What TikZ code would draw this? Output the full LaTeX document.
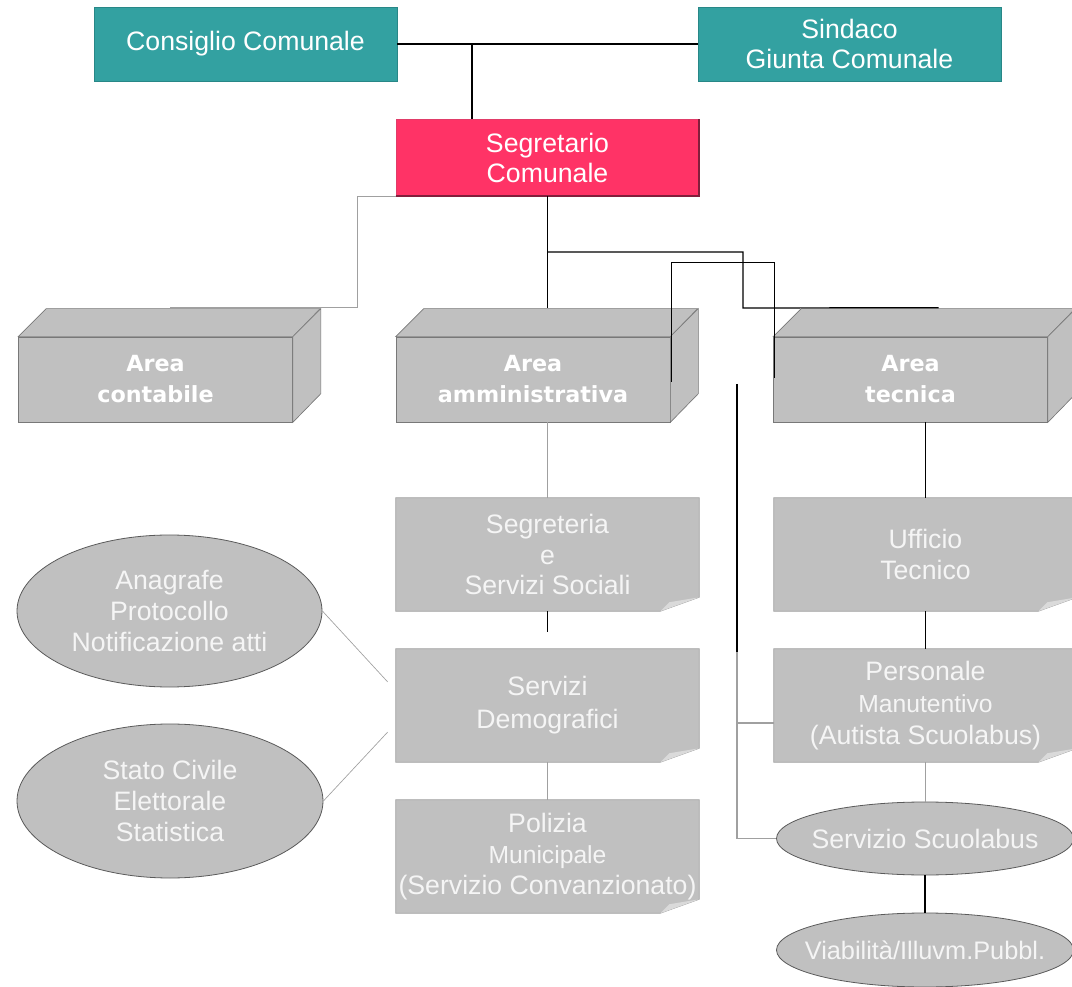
\documentclass[tikz,border=0pt]{standalone}
\usepackage{fontspec}
\setmainfont{Liberation Sans}
\newfontfamily\areafont{DejaVu Sans}
\usetikzlibrary{shapes.geometric,backgrounds,calc}

\definecolor{boardteal}{RGB}{51,161,161}
\definecolor{boardedge}{RGB}{40,135,135}
\definecolor{secretaryred}{RGB}{255,51,102}
\definecolor{secretaryedge}{RGB}{225,60,105}
\definecolor{secretaryshadow}{RGB}{130,30,60}
\definecolor{officegray}{RGB}{192,192,192}
\definecolor{boxedge}{RGB}{120,120,120}
\definecolor{noteedge}{RGB}{165,165,165}
\definecolor{foldgray}{RGB}{218,218,218}
\definecolor{notetext}{RGB}{245,245,245}
\definecolor{bubbleedge}{RGB}{90,90,90}
\definecolor{linegray}{RGB}{160,160,160}

\tikzset{
  topbox/.style={rectangle, fill=boardteal, draw=boardedge, line width=0.6pt,
    text=white, minimum width=227.25pt, minimum height=55.5pt, inner sep=0pt,
    align=center, font=\fontsize{20}{22.5}\selectfont},
  areabox/.style={rectangle, fill=officegray, draw=boxedge, line width=0.5pt,
    text=white, minimum width=205.5pt, minimum height=63.75pt, inner sep=0pt,
    align=center, font=\areafont\bfseries\fontsize{16.7}{23.25}\selectfont},
  areaface/.style={fill=officegray, draw=boxedge, line width=0.5pt},
  notebox/.style={rectangle, minimum width=227.25pt, minimum height=84.75pt,
    inner sep=0pt, align=center, text=notetext, font=\fontsize{20}{23}\selectfont},
  bubble/.style={ellipse, fill=officegray, draw=bubbleedge, line width=0.6pt, inner sep=0pt},
  bubbletext/.style={text=notetext, align=center, font=\fontsize{20}{23}\selectfont},
  link/.style={line width=0.9pt},
  graylink/.style={draw=linegray, line width=0.8pt},
}

\begin{document}
\begin{tikzpicture}[x=0.75pt,y=-0.75pt]
  \useasboundingbox (0,0) rectangle (1072,987);

  % organi di governo
  \node[topbox] (consiglio) at (245.5,44) {Consiglio Comunale};
  \node[topbox] (sindaco) at (849.5,44) {Sindaco\\Giunta Comunale};
  \node[topbox, fill=secretaryred, draw=secretaryedge, minimum height=57.75pt]
    (segretario) at (547.5,157.5) {Segretario\\Comunale};
  \draw[secretaryshadow, line width=1.4pt]
    (segretario.south west) -- (segretario.south east) -- (segretario.north east);

  % aree (scatole in rilievo)
  \node[areabox] (contabile) at (155.5,379.5) {Area\\contabile};
  \node[areabox] (amministrativa) at (533,379.5) {Area\\amministrativa};
  \node[areabox] (tecnica) at (910.5,379.5) {Area\\tecnica};
  \foreach \a in {contabile,amministrativa,tecnica}{
    \filldraw[areaface] (\a.north west) -- ++(28,-28) -- ++(274,0) -- (\a.north east) -- cycle;
    \filldraw[areaface] (\a.north east) -- ++(28,-28) -- ++(0,85) -- (\a.south east) -- cycle;
  }

  % uffici
  \node[notebox] (segreteria) at (547.5,554.5) {Segreteria\\e\\Servizi Sociali};
  \node[notebox, font=\fontsize{20}{24.75}\selectfont] (demografici) at (547.5,705.5)
    {Servizi\\Demografici};
  \node[notebox] (polizia) at (547.5,856.5)
    {Polizia\\{\fontsize{18.5}{23}\selectfont Municipale}\\(Servizio Convanzionato)};
  \node[notebox] (ufficio) at (925.5,554.5) {Ufficio\\Tecnico};
  \node[notebox, font=\fontsize{20}{24}\selectfont] (personale) at (925.5,705.5)
    {Personale\\{\fontsize{18.5}{24}\selectfont Manutentivo}\\(Autista Scuolabus)};
  \begin{scope}[on background layer]
    \foreach \n in {segreteria,demografici,polizia,ufficio,personale}{
      \filldraw[fill=officegray, draw=noteedge, line width=0.5pt]
        (\n.north west) -- (\n.north east) -- ($(\n.south east)+(0,-14)$)
        -- ($(\n.south east)+(-39,0)$) -- (\n.south west) -- cycle;
      \fill[foldgray] ($(\n.south east)+(-39,0)$) -- ($(\n.south east)+(0,-14)$)
        -- ($(\n.south east)+(-30,-9)$) -- cycle;
    }
  \end{scope}

  % servizi
  \node[bubble, minimum width=228.75pt, minimum height=114pt,
    label={[bubbletext]center:Anagrafe\\Protocollo\\Notificazione atti}] (anagrafe) at (169.5,611) {};
  \node[bubble, minimum width=229.5pt, minimum height=115.5pt,
    label={[bubbletext]center:Stato Civile\\Elettorale\\Statistica}] (statocivile) at (170,801) {};
  \node[bubble, minimum width=222.75pt, minimum height=54.75pt,
    label={[bubbletext]center:Servizio Scuolabus}] (scuolabus) at (925,838.5) {};
  \node[bubble, minimum width=222.75pt, minimum height=55.5pt,
    label={[bubbletext, font=\fontsize{19}{23}\selectfont]center:Viabilità/Illuvm.Pubbl.}] (viabilita) at (925,950) {};

  % collegamenti
  \coordinate (top split) at (472,44);
  \draw[link] (consiglio) -- (sindaco);
  \draw[link] (top split) -- (top split |- segretario.north);

  \coordinate (amm top) at ($(amministrativa.north)+(14,-29)$);
  \draw[graylink] (segretario.south west) -- ++(-38,0) |- ($(contabile.north)+(14,-29)$);
  \draw[link] (segretario.south) -- (segretario.south |- amm top);
  \draw[link] (segretario.south |- 0,252) -| (743,308) -- ($(tecnica.north)+(28,-29)$);

  \coordinate (amm edge) at ($(amministrativa.north east)+(1,45)$);
  \coordinate (tec edge) at ($(tecnica.north west)+(1.5,41)$);
  \draw[link] (amm edge) -- ++(0,-119) -| (tec edge);

  \coordinate (bus top) at (737,384);
  \coordinate (bus bend) at (737,652);
  \draw[link] (bus top) -- (bus bend);
  \draw[graylink] (bus bend) |- (scuolabus.west);
  \draw[graylink] (bus bend |- 0,723) -- (personale.west |- 0,723);

  \draw[graylink] (segreteria.north |- amministrativa.south) -- (segreteria.north);
  \draw[link] (segreteria.south) -- ++(0,21);
  \draw[graylink] (demografici.south) -- (polizia.north);
  \draw[graylink, line width=0.5pt] (anagrafe.east) -- ($(demografici.west)+(-8,-23.5)$);
  \draw[graylink, line width=0.5pt] (statocivile.east) -- ($(demografici.west)+(-8,26.5)$);

  \draw[link] (ufficio.north |- tecnica.south) -- (ufficio.north);
  \draw[link] (ufficio.south) -- (personale.north);
  \draw[graylink] (personale.south) -- (personale.south |- scuolabus.north);
  \draw[link] (scuolabus.south) -- (viabilita.north);
\end{tikzpicture}
\end{document}
